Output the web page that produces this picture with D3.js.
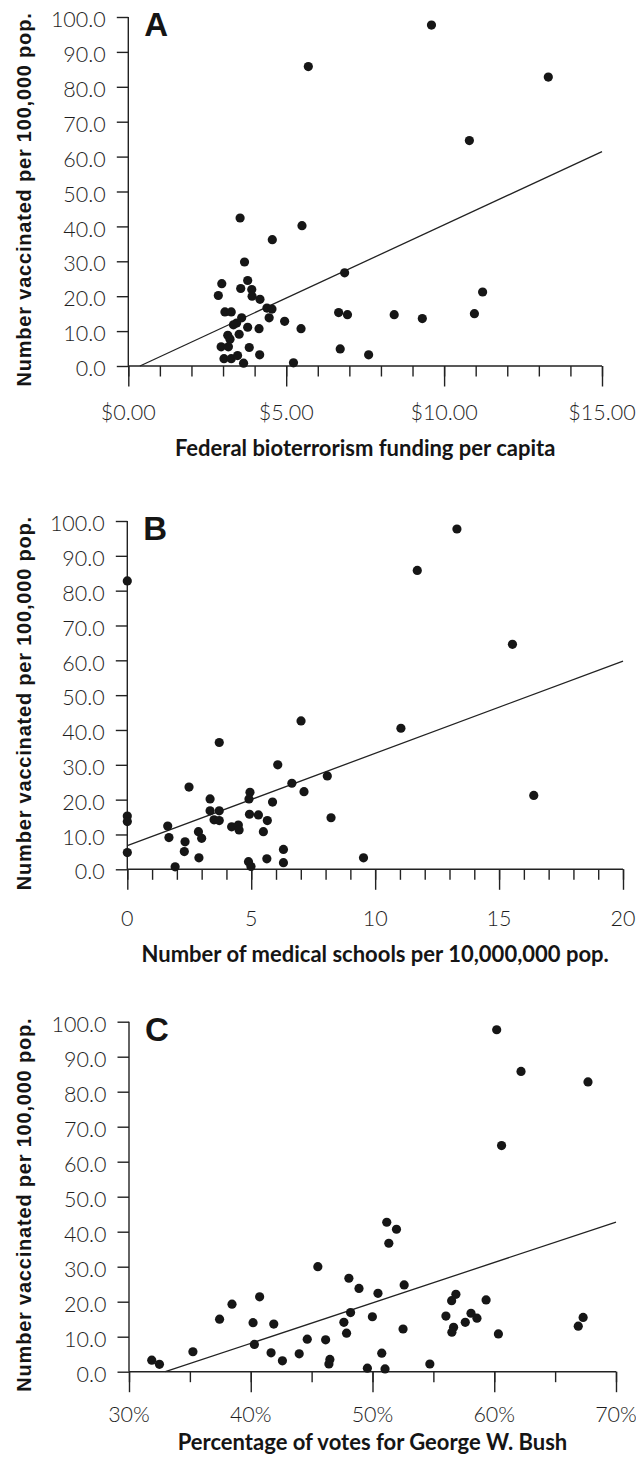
<!DOCTYPE html>
<html>
<head>
<meta charset="utf-8">
<script src="https://cdn.jsdelivr.net/npm/d3@7"></script>
<style>
    body { margin: 0; background: #fff; }
    svg text { font-family: Lato, "Open Sans", sans-serif; }
    .tick text { font-weight: 300; font-size: 21.5px; fill: #1e1e1e; }
    .x-label { font-weight: 300; font-size: 21.5px; fill: #1e1e1e; }
    .x-title { font-weight: 700; font-size: 22px; fill: #151515; }
    .y-title { font-family: "Liberation Sans", Arial, sans-serif; font-weight: 700; font-size: 20px;
        letter-spacing: 0.8px; fill: #151515; }
    .letter { font-family: "Liberation Sans", Arial, sans-serif; font-weight: 700; font-size: 33px; fill: #151515; }
</style>
</head>
<body>
<svg id="chart" width="636" height="1457"></svg>
<script>
// values

var yTicks = [0, 10, 20, 30, 40, 50, 60, 70, 80, 90, 100];
var yTitle = "Number vaccinated per 100,000 pop.";

// A: federal bioterrorism funding per capita ($)
var fundX = [9.6, 5.7, 13.3, 10.8, 3.54, 4.56, 3.68, 5.5, 2.96, 3.78, 3.56, 3.91, 2.85, 3.92, 4.17,
    3.06, 3.26, 3.59, 3.43, 3.33, 4.39, 4.55, 4.46, 4.95, 5.47, 3.78, 4.14, 3.15, 3.51, 3.22,
    2.94, 3.17, 3.83, 4.16, 3.03, 3.26, 3.46, 3.65, 5.23, 6.85, 11.22, 6.66, 6.94, 8.42, 9.31,
    10.96, 6.71, 7.61];
var fundY = [97.7, 85.8, 82.8, 64.6, 42.4, 36.2, 29.8, 40.2, 23.6, 24.5, 22.2, 21.9, 20.2, 20.0, 19.1,
    15.5, 15.5, 13.8, 12.3, 11.8, 16.6, 16.3, 13.8, 12.8, 10.7, 11.1, 10.7, 8.8, 9.1, 7.7,
    5.5, 5.5, 5.3, 3.2, 2.1, 2.1, 3.0, 0.8, 0.9, 26.7, 21.2, 15.3, 14.7, 14.7, 13.6,
    15.0, 4.9, 3.2];
var fundTicks = [0, 5, 10, 15];
var fundFit = [4.2, -1.55];   // slope, intercept

// B: medical schools per 10,000,000 pop.
var schoolX = [0, 0, 0, 3.71, 2.49, 3.34, 3.34, 3.71, 3.5, 3.71, 1.63, 1.68, 2.87, 3.0, 2.33,
    2.3, 2.89, 1.93, 4.21, 4.48, 4.51, 4.95, 4.91, 4.93, 5.29, 5.65, 5.49, 5.86, 6.07, 6.64,
    4.89, 4.99, 5.63, 6.3, 6.3, 7.01, 7.13, 8.07, 8.22, 11.04, 9.53, 15.54, 16.4, 0, 11.7, 13.3];
var schoolY = [15.3, 13.7, 4.8, 36.4, 23.6, 20.2, 16.8, 16.8, 14.2, 14.0, 12.4, 9.1, 10.8, 8.9, 7.9,
    5.1, 3.3, 0.7, 12.2, 12.7, 11.3, 22.1, 20.2, 15.8, 15.6, 14.0, 10.8, 19.3, 30.0, 24.7,
    2.2, 0.8, 3.0, 5.7, 1.9, 42.6, 22.3, 26.8, 14.8, 40.5, 3.3, 64.6, 21.2, 82.8, 85.8, 97.7];
var schoolTicks = [0, 5, 10, 15, 20];
var schoolFit = [2.65, 6.8];

// C: percentage of votes for George W. Bush
var bushX = [31.87, 32.5, 35.25, 37.44, 38.46, 40.73, 40.19, 40.3, 41.89, 41.67, 42.6, 43.98, 44.64,
    46.15, 46.5, 46.42, 45.51, 48.06, 48.89, 48.2, 47.65, 47.87, 50.45, 49.99, 51.17, 51.97, 51.34,
    52.6, 52.51, 50.76, 49.58, 51.03, 54.71, 56.03, 56.5, 56.85, 56.66, 56.52, 57.62, 58.09, 58.58,
    59.33, 60.34, 66.9, 67.3, 60.2, 62.2, 67.7, 60.6];
var bushY = [3.3, 2.1, 5.7, 15.0, 19.3, 21.4, 14.0, 7.8, 13.6, 5.4, 3.1, 5.1, 9.3,
    9.1, 3.5, 2.2, 30.0, 26.7, 23.8, 16.9, 14.1, 11.0, 22.4, 15.7, 42.7, 40.7, 36.7,
    24.8, 12.2, 5.3, 1.0, 0.8, 2.2, 15.9, 20.3, 22.1, 12.7, 11.3, 14.1, 16.7, 15.3,
    20.5, 10.8, 13.0, 15.5, 97.7, 85.8, 82.8, 64.6];
var bushTicks = [30, 40, 50, 60, 70];
var bushFit = [1.155, -38.1];

var panels = [
    {letter: "A", xs: fundX, ys: fundY, ticks: fundTicks, minorStep: 1, fit: fundFit,
        fmt: d3.format("$.2f"), title: "Federal bioterrorism funding per capita",
        left: 128.3, right: 602, top: 17, bottom: 366, labelGap: 54, titleGap: 90},
    {letter: "B", xs: schoolX, ys: schoolY, ticks: schoolTicks, minorStep: 1, fit: schoolFit,
        fmt: d3.format("d"), title: "Number of medical schools per 10,000,000 pop.",
        left: 127.3, right: 623, top: 521, bottom: 869.3, labelGap: 57, titleGap: 93},
    {letter: "C", xs: bushX, ys: bushY, ticks: bushTicks, minorStep: 5, fit: bushFit,
        fmt: function (d) { return d + "%"; }, title: "Percentage of votes for George W. Bush",
        left: 129, right: 616, top: 1021.7, bottom: 1371.7, labelGap: 50, titleGap: 78}
];

var svg = d3.select("#chart");
panels.forEach(drawPanel);

function drawPanel(p) {
    var lo = p.ticks[0], hi = p.ticks[p.ticks.length - 1];
    var x = d3.scaleLinear().domain([lo, hi]).range([p.left, p.right]);
    var y = d3.scaleLinear().domain([0, 100]).range([p.bottom, p.top]);
    var g = svg.append("g");

    // y axis
    var yAxis = g.append("g")
        .attr("transform", "translate(" + p.left + ",0)")
        .call(d3.axisLeft(y).tickValues(yTicks).tickSize(11.5).tickSizeOuter(0)
            .tickPadding(11).tickFormat(d3.format(".1f")));
    yAxis.selectAll("text").attr("dy", "0.45em");

    // x axis: minor and major ticks
    var minor = d3.range(lo, hi + 0.001, p.minorStep);
    g.append("g")
        .attr("transform", "translate(0," + p.bottom + ")")
        .call(d3.axisBottom(x).tickValues(minor).tickSize(10.5).tickSizeOuter(0).tickFormat(""));
    g.append("g")
        .attr("transform", "translate(0," + p.bottom + ")")
        .call(d3.axisBottom(x).tickValues(p.ticks).tickSize(20.5).tickSizeOuter(0).tickFormat(""));

    g.selectAll(".domain").remove();
    g.selectAll(".tick line").attr("stroke", "#222").attr("stroke-width", 1.4);

    g.append("line")
        .attr("x1", p.left).attr("x2", p.left)
        .attr("y1", y(100)).attr("y2", y(0))
        .attr("stroke", "#222").attr("stroke-width", 1.4);
    g.append("line")
        .attr("x1", x(lo)).attr("x2", x(hi))
        .attr("y1", y(0)).attr("y2", y(0))
        .attr("stroke", "#222").attr("stroke-width", 1.4);

    // x tick labels
    g.selectAll("text.x-label")
        .data(p.ticks)
        .enter().append("text")
        .classed("x-label", true)
        .attr("x", function (d) { return x(d); })
        .attr("y", p.bottom + p.labelGap)
        .attr("text-anchor", "middle")
        .text(p.fmt);

    // titles
    g.append("text")
        .classed("x-title", true)
        .attr("x", (p.left + p.right) / 2)
        .attr("y", p.bottom + p.titleGap)
        .attr("text-anchor", "middle")
        .text(p.title);

    var cy = (p.top + p.bottom) / 2 + 8;
    g.append("text")
        .classed("y-title", true)
        .attr("transform", "translate(31," + cy + ") rotate(-90)")
        .attr("text-anchor", "middle")
        .text(yTitle);

    g.append("text")
        .classed("letter", true)
        .attr("x", p.left + 16)
        .attr("y", p.top + 19)
        .text(p.letter);

    // regression line
    var m = p.fit[0], b = p.fit[1];
    var xStart = Math.max(lo, -b / m);
    g.append("line")
        .attr("x1", x(xStart)).attr("y1", y(m * xStart + b))
        .attr("x2", x(hi)).attr("y2", y(m * hi + b))
        .attr("stroke", "#222").attr("stroke-width", 1.3);

    // points
    g.selectAll("circle")
        .data(d3.range(p.xs.length))
        .enter().append("circle")
        .attr("cx", function (i) { return x(p.xs[i]); })
        .attr("cy", function (i) { return y(p.ys[i]); })
        .attr("r", 4.6)
        .attr("fill", "#161616");
}
</script>
</body>
</html>
